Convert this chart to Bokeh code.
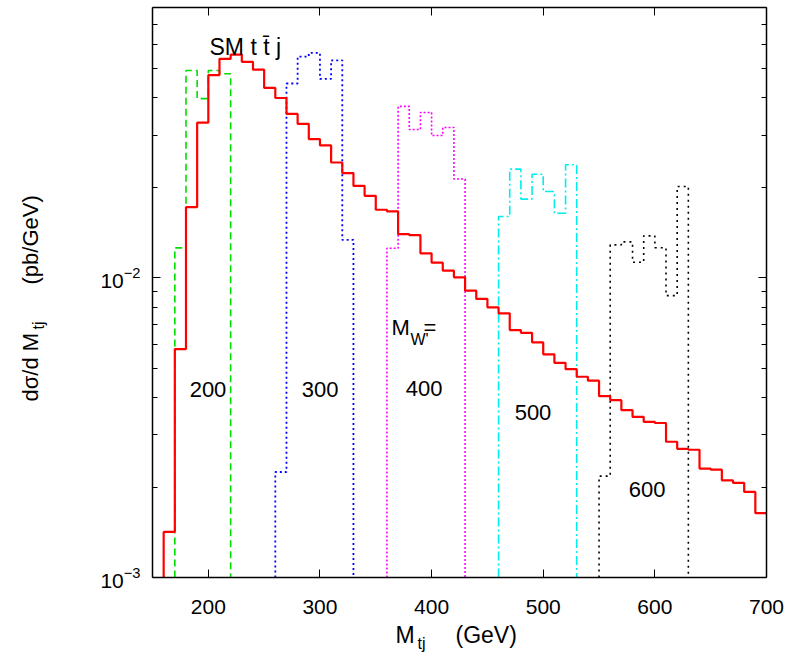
import math
from bokeh.plotting import figure
from bokeh.models import (LinearAxis, LogAxis, FixedTicker, Label, Range1d,
                          CustomJSTickFormatter, LogTickFormatter)
from bokeh.embed import file_html
from bokeh.resources import INLINE

# ---------------- data (bin width 10 GeV) ----------------
bin_width = 10

sm_start = 160
sm_values = [1.42e-3, 5.79e-3, 0.01723, 0.0330, 0.0476, 0.0539, 0.0557, 0.0527,
             0.0496, 0.0431, 0.0399, 0.0353, 0.0327, 0.0291, 0.0277, 0.0243,
             0.0224, 0.0203, 0.0188, 0.0169, 0.0167, 0.0140, 0.0139, 0.01209,
             0.01125, 0.01058, 0.01005, 9.07e-3, 8.51e-3, 7.98e-3, 7.62e-3,
             6.70e-3, 6.56e-3, 6.10e-3, 5.56e-3, 5.21e-3, 4.96e-3, 4.68e-3,
             4.54e-3, 4.03e-3, 3.91e-3, 3.62e-3, 3.44e-3, 3.31e-3, 3.28e-3,
             2.84e-3, 2.69e-3, 2.67e-3, 2.31e-3, 2.29e-3, 2.11e-3, 2.07e-3,
             1.93e-3, 1.64e-3]

w200_start = 170
w200_values = [0.0126, 0.0493, 0.0397, 0.0493, 0.0481]

w300_start = 260
w300_values = [2.25e-3, 0.0446, 0.0548, 0.0564, 0.0462, 0.0533, 0.0134]

w400_start = 360
w400_values = [0.01257, 0.0374, 0.0313, 0.0357, 0.0299, 0.0318, 0.0214]

w500_start = 460
w500_values = [0.01604, 0.0231, 0.01834, 0.0222, 0.01944, 0.01645, 0.02387]

w600_start = 550
w600_values = [2.18e-3, 0.0129, 0.0132, 0.01128, 0.01382, 0.01262, 8.73e-3, 0.0202]

x_ticks = [200, 300, 400, 500, 600, 700]
y_major = [1e-3, 1e-2]
y_minor = [k * 1e-3 for k in range(2, 10)] + [k * 1e-2 for k in range(2, 9)]

X_MIN, X_MAX = 150, 700
Y_MIN, Y_MAX = 1e-3, 0.08

FONT = "Liberation Sans"
W, H = 791, 665

# pixel box of the data area (axes are drawn at fixed locations inside a
# full-canvas frame so that titles can sit outside the data box)
F_LEFT, F_RIGHT, F_TOP, F_BOTTOM = 152, 766, 7, 577


def dx(px):
    return X_MIN + (px - F_LEFT) * (X_MAX - X_MIN) / (F_RIGHT - F_LEFT)


def dy(py):
    dec = math.log10(Y_MAX / Y_MIN)
    return Y_MIN * 10 ** ((F_BOTTOM - py) / (F_BOTTOM - F_TOP) * dec)


def hist_path(start, values, open_left=True, open_right=True):
    xs, ys = [], []
    if open_left:
        xs.append(start)
        ys.append(Y_MIN)
    for i, v in enumerate(values):
        x0 = start + i * bin_width
        xs += [x0, x0 + bin_width]
        ys += [v, v]
    if open_right:
        xs.append(start + len(values) * bin_width)
        ys.append(Y_MIN)
    return xs, ys


p = figure(width=W, height=H, x_range=Range1d(dx(0), dx(W)),
           y_range=Range1d(dy(H), dy(0)), y_axis_type="log",
           x_axis_location=None, y_axis_location=None,
           output_backend="svg", toolbar_location=None,
           min_border_left=0, min_border_right=0, min_border_top=0,
           min_border_bottom=0)
p.grid.visible = False
p.outline_line_color = None
p.background_fill_color = "white"
p.border_fill_color = "white"

empty = CustomJSTickFormatter(code="return ''")
tick_kw = dict(major_tick_in=8, major_tick_out=0, axis_line_width=1.5,
               axis_line_color="black", major_tick_line_color="black",
               minor_tick_line_color="black")

# bottom axis
xa = LinearAxis(fixed_location=Y_MIN, bounds=(X_MIN, X_MAX),
                ticker=FixedTicker(ticks=x_ticks), minor_tick_in=0,
                minor_tick_out=0, major_label_standoff=22,
                major_label_text_font=FONT, major_label_text_font_size="21px",
                major_label_text_color="black", **tick_kw)
p.add_layout(xa, "below")

# top axis (mirror ticks)
ta = LinearAxis(fixed_location=Y_MAX, bounds=(X_MIN, X_MAX),
                ticker=FixedTicker(ticks=x_ticks), formatter=empty,
                minor_tick_in=0, minor_tick_out=0, major_label_standoff=0,
                **tick_kw)
p.add_layout(ta, "above")

# left axis
ya = LogAxis(fixed_location=X_MIN, bounds=(Y_MIN, Y_MAX),
             ticker=FixedTicker(ticks=y_major, minor_ticks=y_minor),
             formatter=LogTickFormatter(), minor_tick_in=5, minor_tick_out=0,
             major_label_standoff=12, major_label_text_font=FONT,
             major_label_text_font_size="21px",
             major_label_text_color="black", **tick_kw)
p.add_layout(ya, "left")

# right axis (mirror ticks)
ra = LogAxis(fixed_location=X_MAX, bounds=(Y_MIN, Y_MAX),
             ticker=FixedTicker(ticks=y_major, minor_ticks=y_minor),
             formatter=empty, minor_tick_in=5, minor_tick_out=0,
             major_label_standoff=0, **tick_kw)
p.add_layout(ra, "right")

# histograms
series = [
    (w200_start, w200_values, "#00dd00", "7 4", 1.6),
    (w300_start, w300_values, "#0000ff", "2 3", 1.8),
    (w400_start, w400_values, "#ff00ff", "2 2", 1.6),
    (w500_start, w500_values, "#00eeee", "9 3 2 3", 1.6),
    (w600_start, w600_values, "#000000", "2 4", 1.6),
]
for start, vals, col, dash, lw in series:
    xs, ys = hist_path(start, vals)
    p.line(xs, ys, line_color=col, line_dash=dash, line_width=lw)

xs, ys = hist_path(sm_start, sm_values, open_right=False)
p.line(xs, ys, line_color="#ff0000", line_width=2.2)


def lab(text, px, py, size, align="left", baseline="middle", angle=0.0):
    p.add_layout(Label(x=dx(px), y=dy(py), text=text, text_font=FONT,
                       text_font_size=size, text_align=align,
                       text_baseline=baseline, angle=angle,
                       text_color="black"))


# in-plot labels
lab("200", 207.5, 389, "22px", "center")
lab("300", 319.7, 389, "22px", "center")
lab("400", 423.7, 387.5, "22px", "center")
lab("500", 532.5, 411.7, "22px", "center")
lab("600", 646.7, 488.7, "22px", "center")
lab("SM t t\u0304 j", 209, 46, "23px")
lab("M", 391, 327, "22px")
lab("W'", 410, 339, "16px")
lab("=", 423, 327, "22px")

# x title
lab("M", 395, 634, "23px")
lab("tj", 417, 643, "16px")
lab("(GeV)", 455, 634, "23px")

# y title (rotated, reads bottom to top)
ang = math.pi / 2
lab("d\u03c3/d M", 29.5, 401, "22px", "left", "middle", ang)
lab("tj", 37.5, 329, "16px", "left", "middle", ang)
lab("(pb/GeV)", 29.5, 284, "22px", "left", "middle", ang)

open("out.html", "w").write(file_html(p, INLINE))
